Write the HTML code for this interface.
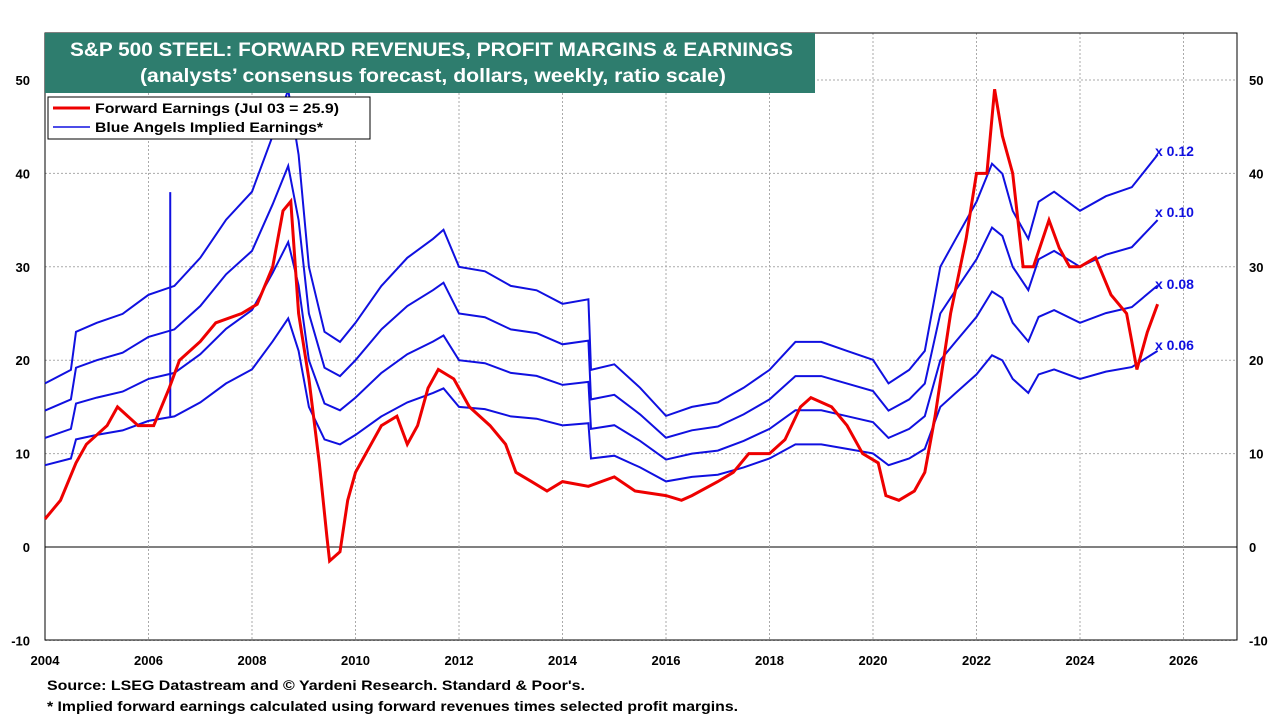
<!DOCTYPE html>
<html><head><meta charset="utf-8"><style>
body{margin:0;background:#fff;font-family:"Liberation Sans",sans-serif}
svg text{font-family:"Liberation Sans",sans-serif}
</style></head><body>
<svg id="c" width="1280" height="720" xmlns="http://www.w3.org/2000/svg"></svg>
<script>
const yTicks=[-10,0,10,20,30,40,50];
const xTicks=[2004,2006,2008,2010,2012,2014,2016,2018,2020,2022,2024,2026];
const margins=[0.06,0.08,0.10,0.12];
const marginLabels=["x 0.06","x 0.08","x 0.10","x 0.12"];
const revDates=[2004.0,2004.5,2004.6,2005.0,2005.5,2006.0,2006.5,2007.0,2007.5,2008.0,2008.4,2008.7,2008.9,2009.1,2009.4,2009.7,2010.0,2010.5,2011.0,2011.5,2011.7,2012.0,2012.5,2013.0,2013.5,2014.0,2014.5,2014.55,2015.0,2015.5,2016.0,2016.5,2017.0,2017.5,2018.0,2018.5,2019.0,2019.5,2020.0,2020.3,2020.7,2021.0,2021.3,2021.6,2022.0,2022.3,2022.5,2022.7,2023.0,2023.2,2023.5,2024.0,2024.5,2025.0,2025.5];
const revenues=[146,158,192,200,208,225,233,258,292,317,367,408,350,250,192,183,200,233,258,275,283,250,246,233,229,217,221,158,163,142,117,125,129,142,158,183,183,175,167,146,158,175,250,275,308,342,333,300,275,308,317,300,313,321,350];
const earnDates=[2004.0,2004.3,2004.6,2004.8,2005.2,2005.4,2005.8,2006.1,2006.4,2006.6,2007.0,2007.3,2007.8,2008.1,2008.4,2008.6,2008.75,2008.9,2009.1,2009.3,2009.45,2009.5,2009.7,2009.85,2010.0,2010.3,2010.5,2010.8,2011.0,2011.2,2011.4,2011.6,2011.9,2012.2,2012.6,2012.9,2013.1,2013.4,2013.7,2014.0,2014.5,2015.0,2015.4,2016.0,2016.3,2016.5,2017.0,2017.3,2017.6,2018.0,2018.3,2018.6,2018.8,2019.2,2019.5,2019.8,2020.1,2020.25,2020.5,2020.8,2021.0,2021.2,2021.5,2021.8,2022.0,2022.2,2022.35,2022.5,2022.7,2022.9,2023.1,2023.4,2023.6,2023.8,2024.0,2024.3,2024.6,2024.9,2025.0,2025.1,2025.3,2025.5];
const earnings=[3,5,9,11,13,15,13,13,17,20,22,24,25,26,30,36,37,25,18,9,1,-1.5,-0.5,5,8,11,13,14,11,13,17,19,18,15,13,11,8,7,6,7,6.5,7.5,6,5.5,5,5.5,7,8,10,10,11.5,15,16,15,13,10,9,5.5,5,6,8,14,25,33,40,40,49,44,40,30,30,35,32,30,30,31,27,25,22,19,23,26];

const svg=document.getElementById('c');const NS="http://www.w3.org/2000/svg";
const L=45,R=1237,T=33,B=640;
const X=v=>L+(v-2004)*51.75;
const Y=v=>547-v*9.34;
function el(t,a,txt){const e=document.createElementNS(NS,t);for(const k in a)e.setAttribute(k,a[k]);if(txt!=null)e.textContent=txt;svg.appendChild(e);return e;}
for(const v of yTicks){const g=el('line',{x1:L,x2:R,y1:Y(v),y2:Y(v),stroke:v===0?'#000':'#aaa','stroke-width':1,'stroke-dasharray':v===0?'':'2,2'});

const t1=el('text',{x:30,y:Y(v)+5,'text-anchor':'end','font-size':13,'font-weight':'bold'},v);

const t2=el('text',{x:1249,y:Y(v)+5,'font-size':13,'font-weight':'bold'},v);
}
for(const v of xTicks){const g=el('line',{x1:X(v),x2:X(v),y1:T,y2:B,stroke:'#aaa','stroke-dasharray':'2,2'});

const t=el('text',{x:X(v),y:665,'text-anchor':'middle','font-size':13,'font-weight':'bold'},v);
}
const fr=el('rect',{x:L,y:T,width:R-L,height:B-T,fill:'none',stroke:'#000'});

const labelY=[345,284,212,151];
margins.forEach((m,i)=>{const p=revDates.map((d,j)=>X(d).toFixed(1)+','+Y(revenues[j]*m).toFixed(1)).join(' ');
const l=el('polyline',{points:p,fill:'none',stroke:'#1010e0','stroke-width':2});

const t=el('text',{x:1155,y:labelY[i]+5,'font-size':14,'font-weight':'bold',fill:'#1010e0'},marginLabels[i]);
});
const sp=el('line',{x1:X(2006.42),x2:X(2006.42),y1:Y(14),y2:Y(38),stroke:'#1010e0','stroke-width':2});

const rp=earnDates.map((d,j)=>X(d).toFixed(1)+','+Y(earnings[j]).toFixed(1)).join(' ');
const rl=el('polyline',{points:rp,fill:'none',stroke:'#e00','stroke-width':3});

const tb=el('rect',{x:45,y:33,width:770,height:60,fill:'#2e7d6e'});

const t1=el('text',{x:70,y:56,'font-size':19,'font-weight':'bold',fill:'#fff',textLength:723,lengthAdjust:'spacingAndGlyphs'},'S&P 500 STEEL: FORWARD REVENUES, PROFIT MARGINS & EARNINGS');

const t2=el('text',{x:140,y:82,'font-size':19,'font-weight':'bold',fill:'#fff',textLength:586,lengthAdjust:'spacingAndGlyphs'},'(analysts’ consensus forecast, dollars, weekly, ratio scale)');

const lb=el('rect',{x:48,y:97,width:322,height:42,fill:'#fff',stroke:'#000'});

const l1=el('line',{x1:53,x2:90,y1:108,y2:108,stroke:'#e00','stroke-width':3});

const lt1=el('text',{x:95,y:113,'font-size':14,'font-weight':'bold',textLength:244,lengthAdjust:'spacingAndGlyphs'},'Forward Earnings (Jul 03 = 25.9)');

const l2=el('line',{x1:53,x2:90,y1:127,y2:127,stroke:'#1010e0','stroke-width':1.6});

const lt2=el('text',{x:95,y:132,'font-size':14,'font-weight':'bold',textLength:228,lengthAdjust:'spacingAndGlyphs'},'Blue Angels Implied Earnings*');

const f1=el('text',{x:47,y:690,'font-size':14,'font-weight':'bold',textLength:538,lengthAdjust:'spacingAndGlyphs'},'Source: LSEG Datastream and © Yardeni Research. Standard & Poor\'s.');

const f2=el('text',{x:47,y:711,'font-size':14,'font-weight':'bold',textLength:691,lengthAdjust:'spacingAndGlyphs'},'* Implied forward earnings calculated using forward revenues times selected profit margins.');

</script>
</body></html>
